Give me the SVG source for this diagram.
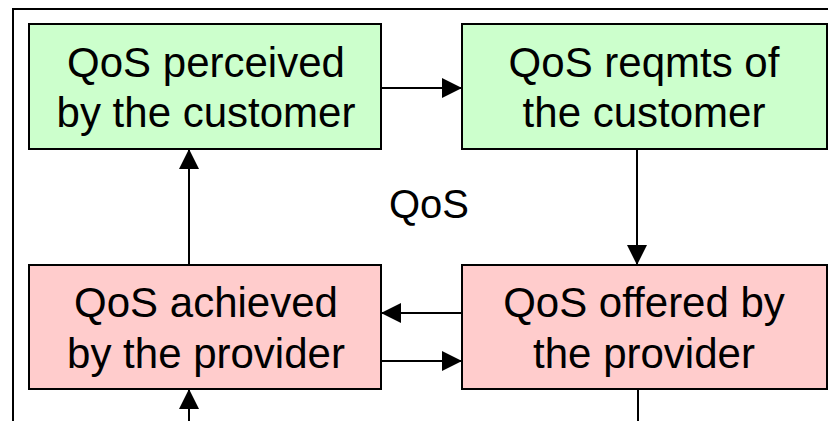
<svg xmlns="http://www.w3.org/2000/svg" width="828" height="421" viewBox="0 0 828 421">
  <defs>
    <marker id="arrow" viewBox="0 0 20 20" refX="20" refY="10" markerWidth="20" markerHeight="20" markerUnits="userSpaceOnUse" orient="auto">
      <polygon points="0,0 20,10 0,20" fill="#000"/>
    </marker>
  </defs>
  <style>
    .frame { fill: none; stroke: #000; stroke-width: 2; }
    .cust { fill: #CCFFCC; stroke: #000; stroke-width: 2; }
    .prov { fill: #FFCCCC; stroke: #000; stroke-width: 2; }
    .lbl { font-family: "Liberation Sans", Arial, sans-serif; font-size: 42px; fill: #000; text-anchor: middle; }
    .title { font-family: "Liberation Sans", Arial, sans-serif; font-size: 40px; fill: #000; text-anchor: middle; }
    .conn line { stroke: #000; stroke-width: 2; }
  </style>

  <!-- outer frame, running past the right and bottom edges -->
  <rect class="frame" x="13" y="9" width="900" height="500"/>

  <g id="perceived">
    <rect class="cust" x="29" y="24" width="352" height="125"/>
    <text class="lbl" x="206" y="77">QoS perceived</text>
    <text class="lbl" x="206" y="127">by the customer</text>
  </g>

  <g id="reqmts">
    <rect class="cust" x="462" y="24" width="365" height="125"/>
    <text class="lbl" x="644" y="77">QoS reqmts of</text>
    <text class="lbl" x="644" y="127">the customer</text>
  </g>

  <g id="achieved">
    <rect class="prov" x="29" y="265" width="352" height="124"/>
    <text class="lbl" x="206" y="317">QoS achieved</text>
    <text class="lbl" x="206" y="368">by the provider</text>
  </g>

  <g id="offered">
    <rect class="prov" x="462" y="265" width="365" height="124"/>
    <text class="lbl" x="644" y="317">QoS offered by</text>
    <text class="lbl" x="644" y="368">the provider</text>
  </g>

  <text class="title" x="429" y="218">QoS</text>

  <g id="connectors" class="conn">
    <line x1="381" y1="88" x2="462" y2="88" marker-end="url(#arrow)"/>
    <line x1="637" y1="149" x2="637" y2="265" marker-end="url(#arrow)"/>
    <line x1="462" y1="313" x2="381" y2="313" marker-end="url(#arrow)"/>
    <line x1="381" y1="361" x2="462" y2="361" marker-end="url(#arrow)"/>
    <line x1="189" y1="265" x2="189" y2="149" marker-end="url(#arrow)"/>
    <line x1="189" y1="421" x2="189" y2="389" marker-end="url(#arrow)"/>
    <line x1="638" y1="389" x2="638" y2="421"/>
  </g>
</svg>
